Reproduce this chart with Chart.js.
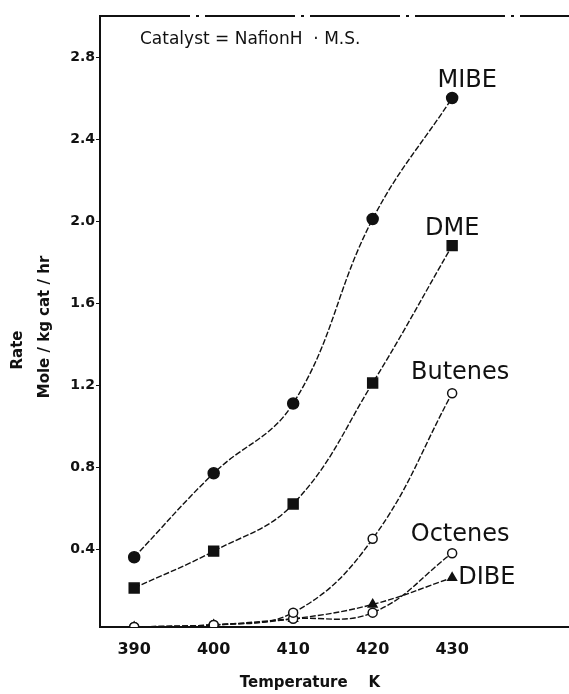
<!DOCTYPE html>
<html lang="en">
<head>
<meta charset="UTF-8">
<title>Rate vs Temperature</title>
<script src="https://cdn.jsdelivr.net/npm/chart.js@4.4.5/dist/chart.umd.min.js"></script>
<style>
  html, body { margin: 0; padding: 0; background: #fff; }
  .chart-box { position: relative; width: 569px; height: 694px; }
</style>
</head>
<body>
<div class="chart-box"><canvas id="rateChart"></canvas></div>
<script>
// Temperature (K) and rates (mole / kg cat / hr)
const temps = [390, 400, 410, 420, 430];
const xTickLabels = ['390', '400', '410', '420', '430'];
const yTickValues = [0.4, 0.8, 1.2, 1.6, 2.0, 2.4, 2.8];
const yTickLabels = ['0.4', '0.8', '1.2', '1.6', '2.0', '2.4', '2.8'];

const mibe = [0.36, 0.77, 1.11, 2.01, 2.60];
const dme = [0.21, 0.39, 0.62, 1.21, 1.88];
const butenes = [0.02, 0.03, 0.09, 0.45, 1.16];
const octenes = [0.02, 0.03, 0.06, 0.09, 0.38];
const dibe = [0.02, 0.03, 0.06, 0.13, 0.26];

function pts(vals) {
  return vals.map((v, i) => ({ x: temps[i], y: v }));
}

function series(label, vals, style, fill, radius, labelOpts) {
  return {
    label: label,
    data: pts(vals),
    borderColor: '#111',
    borderWidth: 1.4,
    borderDash: [6, 2],
    tension: 0.4,
    pointStyle: style,
    pointRadius: radius,
    pointBackgroundColor: fill,
    pointBorderColor: '#111',
    pointBorderWidth: 1.5,
    endLabel: labelOpts
  };
}

// draws the series names next to the last point
const endLabels = {
  id: 'endLabels',
  afterDatasetsDraw(chart) {
    const ctx = chart.ctx;
    ctx.save();
    ctx.fillStyle = '#111';
    ctx.font = '24px "DejaVu Sans"';
    ctx.textBaseline = 'middle';
    chart.data.datasets.forEach((ds, i) => {
      const meta = chart.getDatasetMeta(i);
      const last = meta.data[meta.data.length - 1];
      const o = ds.endLabel;
      ctx.textAlign = o.align;
      ctx.fillText(ds.label, last.x + o.dx, last.y + o.dy);
    });
    ctx.restore();
  }
};

// frame bits, note and axis titles
const decor = {
  id: 'decor',
  afterDraw(chart) {
    const ctx = chart.ctx;
    const a = chart.chartArea;
    ctx.save();
    ctx.strokeStyle = '#111';
    ctx.lineWidth = 2;
    ctx.setLineDash([90, 6, 3, 6]);
    ctx.beginPath();
    ctx.moveTo(a.left, a.top);
    ctx.lineTo(a.right, a.top);
    ctx.stroke();
    ctx.setLineDash([]);

    ctx.fillStyle = '#111';
    ctx.font = '17px "DejaVu Sans"';
    ctx.textAlign = 'left';
    ctx.textBaseline = 'middle';
    ctx.fillText('Catalyst = NafionH  \u00b7 M.S.', a.left + 40, 40);

    ctx.font = 'bold 15px "DejaVu Sans"';
    ctx.textAlign = 'center';
    ctx.fillText('Temperature    K', 310, 683);

    ctx.save();
    ctx.translate(18, 350);
    ctx.rotate(-Math.PI / 2);
    ctx.fillText('Rate', 0, 0);
    ctx.restore();
    ctx.save();
    ctx.translate(45, 327);
    ctx.rotate(-Math.PI / 2);
    ctx.fillText('Mole / kg cat / hr', 0, 0);
    ctx.restore();
    ctx.restore();
  }
};

new Chart(document.getElementById('rateChart'), {
  type: 'line',
  data: {
    datasets: [
      series('MIBE', mibe, 'circle', '#111', 5.5, { dx: 15, dy: -17, align: 'center' }),
      series('DME', dme, 'rect', '#111', 7, { dx: 0, dy: -17, align: 'center' }),
      series('Butenes', butenes, 'circle', '#fff', 4.5, { dx: 8, dy: -20, align: 'center' }),
      series('Octenes', octenes, 'circle', '#fff', 4.5, { dx: 8, dy: -18, align: 'center' }),
      series('DIBE', dibe, 'triangle', '#111', 5, { dx: 6, dy: 0, align: 'left' })
    ]
  },
  options: {
    responsive: true,
    maintainAspectRatio: false,
    animation: false,
    layout: { autoPadding: false, padding: { top: 16, right: 0, left: 0, bottom: 0 } },
    plugins: {
      legend: { display: false },
      tooltip: { enabled: false }
    },
    scales: {
      x: {
        type: 'linear',
        min: 385.7,
        max: 444.7,
        afterBuildTicks(scale) {
          scale.ticks = temps.map(t => ({ value: t }));
        },
        afterFit(scale) {
          scale.height = 67;
        },
        border: { color: '#111', width: 2 },
        grid: { display: false },
        ticks: {
          padding: 5,
          color: '#111',
          font: { family: 'DejaVu Sans', size: 16, weight: 'bold' },
          callback: (v, i) => xTickLabels[i]
        }
      },
      y: {
        min: 0.02,
        max: 3.0,
        afterBuildTicks(scale) {
          scale.ticks = yTickValues.map(v => ({ value: v }));
        },
        afterFit(scale) {
          scale.width = 100;
        },
        border: { color: '#111', width: 2 },
        grid: { drawOnChartArea: false, drawTicks: true, tickLength: 4, color: '#111' },
        ticks: {
          padding: 1,
          color: '#111',
          font: { family: 'DejaVu Sans', size: 14, weight: 'bold' },
          callback: (v, i) => yTickLabels[i]
        }
      }
    }
  },
  plugins: [endLabels, decor]
});
</script>
</body>
</html>
